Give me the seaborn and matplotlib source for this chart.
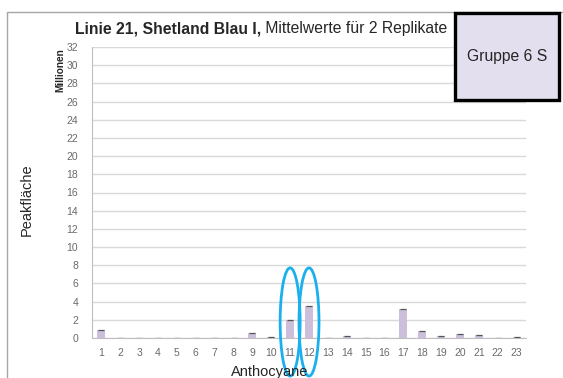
import numpy as np
import pandas as pd
import matplotlib
matplotlib.use("Agg")
import matplotlib.pyplot as plt
from matplotlib.patches import Ellipse, Rectangle
import seaborn as sns

# mean peak areas (millions) per anthocyanin peak
peaks = [str(i) for i in range(1, 24)]
means = [0.85, 0.05, 0.05, 0.05, 0.05, 0.02, 0.02, 0.02, 0.5, 0.15, 2.0, 3.5,
         0.05, 0.2, 0.05, 0.02, 3.2, 0.75, 0.2, 0.4, 0.35, 0.05, 0.1]
marked = ["11", "12"]

df = pd.DataFrame({"Anthocyane": peaks, "Peakfläche": means})

sns.set_style("white")
plt.rcParams['font.family'] = ['Liberation Sans', 'DejaVu Sans']

fig = plt.figure(figsize=(5.63, 3.78), dpi=100)
ax = fig.add_axes([92/563, 1-338/378, (526-92)/563, (338-47)/378])

sns.barplot(data=df, x="Anthocyane", y="Peakfläche", order=peaks,
            color="#cbbfdc", saturation=1, width=0.42, linewidth=0,
            ax=ax, zorder=3)
# dark caps on the bar tops
ax.hlines(means, np.arange(len(peaks)) - 0.16, np.arange(len(peaks)) + 0.16,
          color="#555555", lw=0.9, zorder=4)

ax.set_xlim(-0.5, 22.5)
ax.set_ylim(0, 32)
ax.set_yticks(range(0, 33, 2))
ax.yaxis.grid(True, color="#d9d9d9", lw=1)
ax.set_axisbelow(True)
for s in ["top", "right"]:
    ax.spines[s].set_visible(False)
for s in ["left", "bottom"]:
    ax.spines[s].set_color("#bfbfbf")
ax.tick_params(axis="both", labelsize=7.5, colors="#6a6a6a", length=0)
ax.tick_params(axis="y", pad=10)
ax.tick_params(axis="x", pad=7)
ax.set_xlabel("")
ax.set_ylabel("")

# circles around marked peaks
for p in marked:
    i = peaks.index(p)
    ax.add_patch(Ellipse((i, 1.76), 1.06, 11.9, fill=False, ec="#1ab0ee",
                         lw=2, clip_on=False, zorder=5))

# outer chart frame
fig.patches.append(Rectangle((7/563, -0.1), 1.1, 1 - 12/378 + 0.1,
                             transform=fig.transFigure, fill=False,
                             ec="#a6a6a6", lw=1))

t1 = fig.text(75/563, 1-29/378, "Linie 21, Shetland Blau I,", fontsize=11.3,
              fontweight="bold", va="center", ha="left")
ax.annotate(" Mittelwerte für 2 Replikate", xy=(1, 0), xycoords=t1,
            fontsize=11.3, va="bottom", ha="left")

fig.text(60/563, 1-70/378, "Millionen", rotation=90, fontsize=7.2,
         fontweight="bold", ha="center", va="center")
fig.text(27/563, 1-200/378, "Peakfläche", rotation=90, fontsize=10.5,
         ha="center", va="center")
fig.text(270/563, 1-372/378, "Anthocyane", fontsize=10.5, ha="center",
         va="center")

# group box
fig.patches.append(Rectangle((455/563, 1-100/378), 104/563, 87/378,
                             transform=fig.transFigure, fc="#e4dfee",
                             ec="black", lw=2.4, zorder=10))
fig.text(507/563, 1-57/378, "Gruppe 6 S", fontsize=11.3, ha="center",
         va="center", zorder=11)

fig.savefig("out.png", dpi=100)
